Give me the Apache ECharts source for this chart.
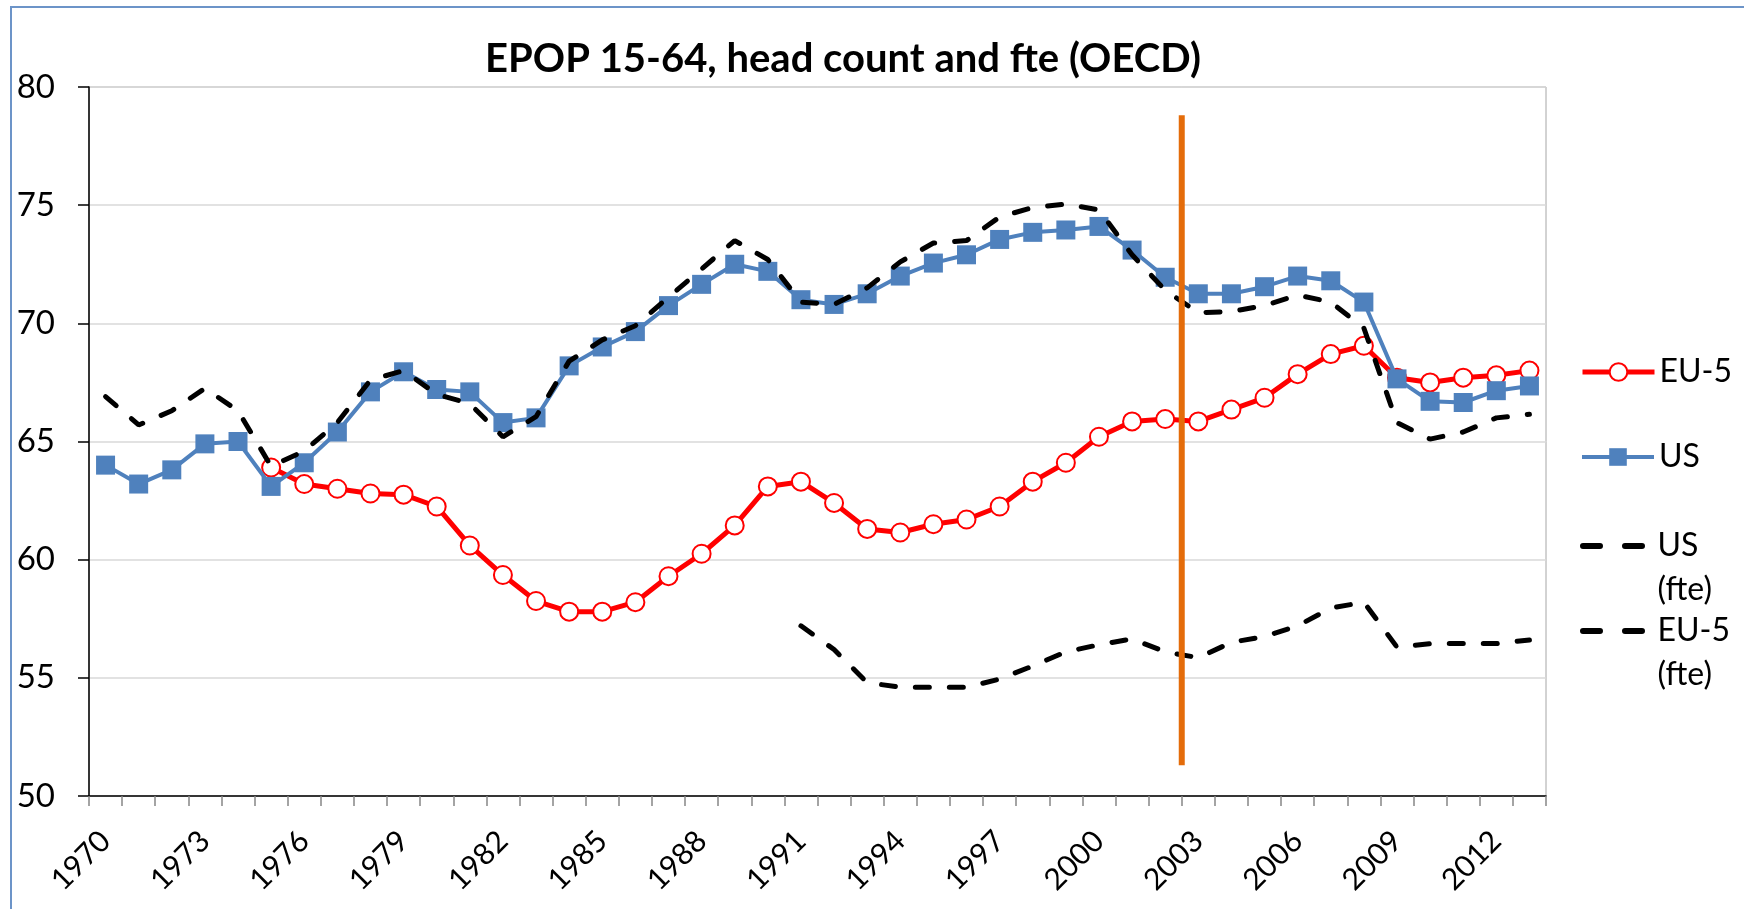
<!DOCTYPE html>
<html>
<head>
<meta charset="utf-8">
<script src="https://cdn.jsdelivr.net/npm/echarts@6/dist/echarts.min.js"></script>
<style>
  html, body { margin: 0; padding: 0; background: #fff; }
  #chart { width: 1744px; height: 909px; }
</style>
</head>
<body>
<div id="chart"></div>
<script>
var years = ['1970', '1971', '1972', '1973', '1974', '1975', '1976', '1977', '1978', '1979',
  '1980', '1981', '1982', '1983', '1984', '1985', '1986', '1987', '1988', '1989',
  '1990', '1991', '1992', '1993', '1994', '1995', '1996', '1997', '1998', '1999',
  '2000', '2001', '2002', '2003', '2004', '2005', '2006', '2007', '2008', '2009',
  '2010', '2011', '2012', '2013'];

var eu5 = [null, null, null, null, null, 63.9, 63.2, 63.0, 62.8, 62.75,
  62.25, 60.6, 59.35, 58.25, 57.8, 57.8, 58.2, 59.3, 60.25, 61.45,
  63.1, 63.3, 62.4, 61.3, 61.15, 61.5, 61.7, 62.25, 63.3, 64.1,
  65.2, 65.85, 65.95, 65.85, 66.35, 66.85, 67.85, 68.7, 69.05, 67.7,
  67.5, 67.7, 67.8, 68.0];

var us = [64.0, 63.2, 63.8, 64.9, 65.0, 63.1, 64.1, 65.4, 67.1, 67.95,
  67.2, 67.1, 65.8, 66.0, 68.2, 69.0, 69.65, 70.75, 71.65, 72.5,
  72.2, 71.0, 70.8, 71.25, 72.0, 72.55, 72.9, 73.55, 73.85, 73.95,
  74.1, 73.1, 71.95, 71.25, 71.25, 71.55, 72.0, 71.8, 70.9, 67.65,
  66.7, 66.65, 67.15, 67.35];

var usFte = [66.9, 65.7, 66.3, 67.25, 66.3, 63.95, 64.6, 65.8, 67.6, 68.0,
  67.0, 66.6, 65.2, 66.05, 68.4, 69.3, 69.9, 71.1, 72.3, 73.5,
  72.7, 70.9, 70.8, 71.5, 72.6, 73.4, 73.5, 74.5, 74.9, 75.05,
  74.8, 72.9, 71.4, 70.45, 70.5, 70.75, 71.2, 70.9, 69.8, 65.8,
  65.1, 65.4, 66.0, 66.15];

var eu5Fte = [null, null, null, null, null, null, null, null, null, null,
  null, null, null, null, null, null, null, null, null, null,
  null, 57.2, 56.2, 54.8, 54.6, 54.6, 54.6, 54.95, 55.5, 56.1,
  56.4, 56.65, 56.1, 55.85, 56.5, 56.75, 57.2, 57.95, 58.2, 56.3,
  56.45, 56.45, 56.45, 56.6];

// vertical marker between 2002 and 2003
var markerX = [2002.5, 2002.5];
var markerY = [78.8, 51.3];

var seriesNames = ['EU-5', 'US', 'US (fte)', 'EU-5 (fte)'];
var yTicks = { min: 50, max: 80, interval: 5 };

var FONT = 'Lato, "Open Sans", sans-serif';
var dashStyle = [14, 20];
var dashIcon = 'path://M3,0 L20,0 A3,3 0 0 1 20,6 L3,6 A3,3 0 0 1 3,0 Z M45,0 L62,0 A3,3 0 0 1 62,6 L45,6 A3,3 0 0 1 45,0 Z';

var myChart = echarts.init(document.getElementById('chart'));

function legendItem(name, top, twoLine, color, width) {
  var item = { name: name };
  if (twoLine) {
    item.icon = dashIcon;
    item.itemStyle = { color: '#000' };
  } else {
    item.lineStyle = { color: color, width: width };
  }
  return {
    data: [item],
    orient: 'vertical',
    left: 1580,
    top: top,
    padding: 0,
    itemWidth: twoLine ? 66 : 72,
    itemHeight: twoLine ? 6 : 22,
    itemGap: 0,
    selectedMode: false,
    formatter: function (n) {
      if (!twoLine) return n;
      // blank first line keeps the first word level with the icon
      return ' \n' + n.replace(' (', '\n(');
    },
    textStyle: {
      fontFamily: FONT,
      fontSize: 32,
      color: '#000',
      lineHeight: 44,
      padding: twoLine ? [0, 0, 0, 7] : 0
    }
  };
}

var option = {
  backgroundColor: '#fff',
  animation: false,
  title: {
    text: 'EPOP 15-64, head count and fte (OECD)',
    left: 838,
    textAlign: 'center',
    top: 34,
    textStyle: {
      fontFamily: FONT,
      fontSize: 40,
      fontWeight: 'bold',
      color: '#000'
    }
  },
  graphic: [{
    type: 'rect',
    shape: { x: 11, y: 7, width: 1760, height: 940 },
    style: { fill: 'none', stroke: '#6c94c8', lineWidth: 2 },
    silent: true
  }],
  legend: [
    legendItem(seriesNames[0], 372 - 22, false, '#ff0000', 5),
    legendItem(seriesNames[1], 457 - 22, false, '#4f81bd', 4),
    legendItem(seriesNames[2], 546 - 66, true),
    legendItem(seriesNames[3], 631 - 66, true)
  ],
  grid: {
    left: 89,
    right: 198,
    top: 87,
    bottom: 113,
    show: true,
    borderColor: '#a6a6a6',
    borderWidth: 1
  },
  xAxis: [{
    type: 'category',
    data: years,
    boundaryGap: true,
    axisLine: { lineStyle: { color: '#000', width: 1.5 } },
    axisTick: {
      show: true,
      interval: 0,
      length: 10,
      lineStyle: { color: '#868686', width: 1.5 }
    },
    axisLabel: {
      interval: 2,
      rotate: 45,
      margin: 40,
      fontFamily: FONT,
      fontSize: 30,
      color: '#000'
    },
    splitLine: { show: false }
  }, {
    type: 'value',
    min: 1969.5,
    max: 2013.5,
    show: false
  }],
  yAxis: {
    type: 'value',
    min: yTicks.min,
    max: yTicks.max,
    interval: yTicks.interval,
    axisLine: { show: true, lineStyle: { color: '#000', width: 1.5 } },
    axisTick: { show: true, length: 11, lineStyle: { color: '#000', width: 1.5 } },
    axisLabel: {
      margin: 34,
      fontFamily: FONT,
      fontSize: 33,
      color: '#000'
    },
    splitLine: {
      show: true,
      lineStyle: { color: '#d9d9d9', width: 1.5 }
    }
  },
  series: [{
    name: seriesNames[0],
    type: 'line',
    data: eu5,
    symbol: 'circle',
    symbolSize: 18,
    itemStyle: { color: '#fff', borderColor: '#ff0000', borderWidth: 2 },
    lineStyle: { color: '#ff0000', width: 5 },
    z: 2
  }, {
    name: seriesNames[1],
    type: 'line',
    data: us,
    symbol: 'rect',
    symbolSize: 19,
    itemStyle: { color: '#4f81bd' },
    lineStyle: { color: '#4f81bd', width: 4 },
    z: 3
  }, {
    name: seriesNames[2],
    type: 'line',
    data: usFte,
    showSymbol: false,
    symbol: 'none',
    itemStyle: { color: '#000' },
    lineStyle: { color: '#000', width: 5, type: dashStyle, cap: 'round' },
    z: 4
  }, {
    name: seriesNames[3],
    type: 'line',
    data: eu5Fte,
    showSymbol: false,
    symbol: 'none',
    itemStyle: { color: '#000' },
    lineStyle: { color: '#000', width: 5, type: dashStyle, cap: 'round' },
    z: 4
  }, {
    name: 'marker',
    type: 'line',
    xAxisIndex: 1,
    data: [[markerX[0], markerY[0]], [markerX[1], markerY[1]]],
    symbol: 'none',
    lineStyle: { color: '#e46c0a', width: 6 },
    z: 6
  }]
};

myChart.setOption(option);
</script>
</body>
</html>
